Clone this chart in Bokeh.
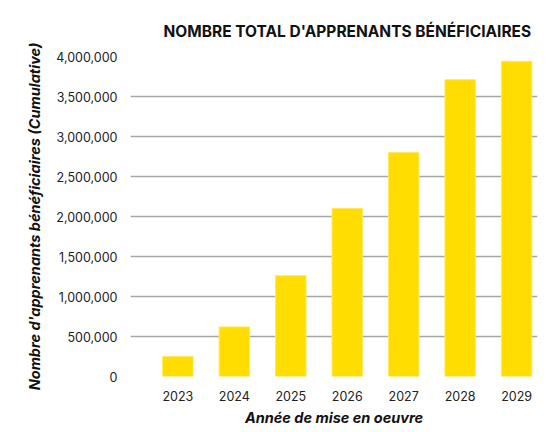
from bokeh.plotting import figure
from bokeh.models import Range1d, FixedTicker, NumeralTickFormatter, ColumnDataSource
from bokeh.embed import file_html
from bokeh.resources import INLINE

years = ["2023", "2024", "2025", "2026", "2027", "2028", "2029"]
learners = [250000, 620000, 1260000, 2100000, 2800000, 3710000, 3940000]
y_ticks = [0, 500000, 1000000, 1500000, 2000000, 2500000, 3000000, 3500000, 4000000]
title_text = "NOMBRE TOTAL D'APPRENANTS BÉNÉFICIAIRES"

xs = list(range(len(years)))
src = ColumnDataSource(dict(x=xs, top=learners))

p = figure(frame_width=407, frame_height=320, output_backend="svg", toolbar_location=None,
           x_range=Range1d(-0.84, 6.37), y_range=Range1d(0, 4000000), title=title_text)
p.min_border_left = 130
p.min_border_right = 1
p.min_border_top = 56
p.min_border_bottom = 40

p.vbar(x="x", top="top", width=0.54, source=src, fill_color="#FFDD00", line_color="#FFE866", line_width=1)

p.title.text_font = "Inter"
p.title.text_font_style = "bold"
p.title.text_font_size = "15.5px"
p.title.text_color = "#111111"
p.title.align = "left"
p.title.offset = 33
p.title.standoff = 32

p.xaxis.ticker = FixedTicker(ticks=xs)
p.xaxis.major_label_overrides = {i: y for i, y in enumerate(years)}
p.yaxis.ticker = FixedTicker(ticks=y_ticks)
p.yaxis.formatter = NumeralTickFormatter(format="0,0")

for ax in (p.xaxis[0], p.yaxis[0]):
    ax.axis_line_color = None
    ax.major_tick_line_color = None
    ax.minor_tick_line_color = None
    ax.major_label_text_font = "Inter"
    ax.major_label_text_font_size = "12.5px"
    ax.major_label_text_color = "#222222"
    ax.axis_label_text_font = "Inter"
    ax.axis_label_text_font_style = "bold italic"
    ax.axis_label_text_font_size = "14.5px"
    ax.axis_label_text_color = "#111111"

p.xaxis.axis_label = "Année de mise en oeuvre"
p.yaxis.axis_label = "Nombre d'apprenants bénéficiaires (Cumulative)"
p.xaxis.major_label_standoff = 8
p.xaxis.axis_label_standoff = 5
p.yaxis.major_label_standoff = 7
p.yaxis.axis_label_standoff = 10

p.xgrid.grid_line_color = None
p.ygrid.grid_line_color = "#a6a6a6"
p.ygrid.grid_line_width = 1.5
p.outline_line_color = None

open("out.html", "w").write(file_html(p, INLINE))
